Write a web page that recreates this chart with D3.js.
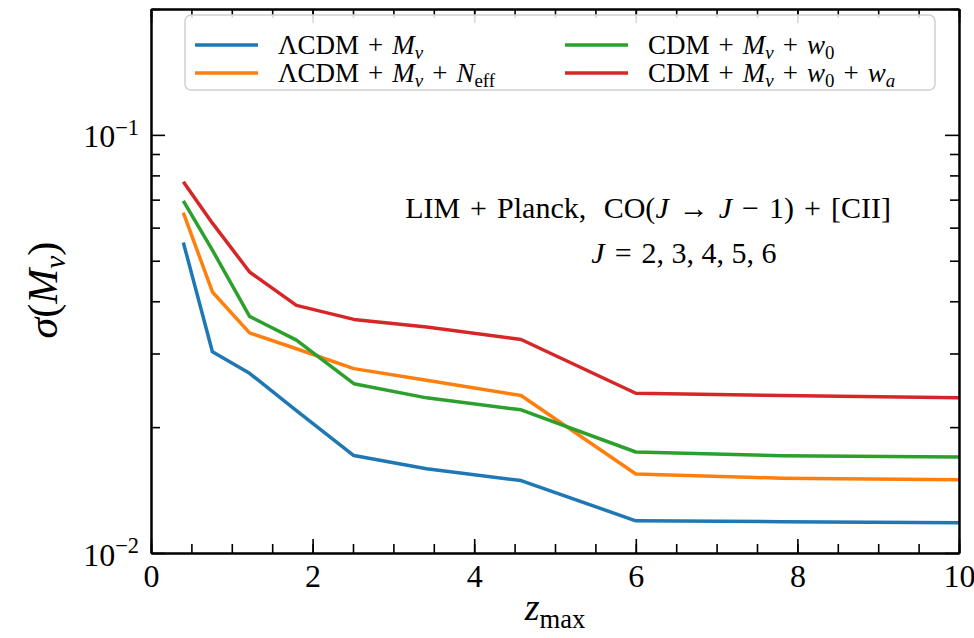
<!DOCTYPE html>
<html>
<head>
<meta charset="utf-8">
<script src="https://cdn.jsdelivr.net/npm/d3@7"></script>
<style>
  body { margin: 0; background: #fff; }
  svg { display: block; }
  text { font-family: "Liberation Serif", "DejaVu Serif", serif; fill: #000; }
</style>
</head>
<body>
<div id="chart"></div>
<script>
// Data
var zmax = [0.4, 0.76, 1.22, 1.8, 2.51, 3.41, 4.58, 6.0, 7.8, 10.0];
var sigLCDM = [0.0553, 0.0303, 0.0269, 0.0219, 0.0171, 0.0159, 0.0149, 0.01194, 0.01188, 0.01181];
var sigLCDMNeff = [0.0652, 0.0421, 0.0336, 0.0308, 0.0276, 0.0259, 0.0238, 0.01545, 0.0151, 0.01496];
var sigCDMw0 = [0.0695, 0.053, 0.0368, 0.0323, 0.0254, 0.0235, 0.022, 0.01744, 0.01709, 0.01697];
var sigCDMw0wa = [0.0772, 0.0615, 0.047, 0.0391, 0.0362, 0.0347, 0.0324, 0.0241, 0.0238, 0.0235];
var seriesColors = ["#1f77b4", "#ff7f0e", "#2ca02c", "#d62728"];
var xTicks = [0, 2, 4, 6, 8, 10];
var yMajor = [0.01, 0.1];

var width = 974, height = 638;
var m = { left: 151, right: 15, top: 9, bottom: 85 };
var pw = width - m.left - m.right;   // 808
var ph = height - m.top - m.bottom;  // 544

var svg = d3.select("#chart").append("svg")
  .attr("width", width)
  .attr("height", height);

var x = d3.scaleLinear().domain([0, 10]).range([m.left, m.left + pw]);
var y = d3.scaleLog().domain([0.01, 0.2]).range([m.top + ph, m.top]);

// three-per-em spaces for TeX-like spacing round binary operators
var SP = "\u2004";

/*
  Write a piece of math-like text. parts is a list of
  [string, style] where style is "n" (upright), "i" (italic),
  "sub" (upright subscript), "isub" (italic subscript), "sup"
*/
function mathText(sel, parts, size) {
  var prev = "n";
  function shiftOf(st) {
    if (st === "sub" || st === "isub") return size * 0.2;
    if (st === "sup") return -size * 0.38;
    return 0;
  }
  parts.forEach(function(p) {
    var t = sel.append("tspan").text(p[0]);
    var st = p[1];
    if (st === "i" || st === "isub") t.attr("font-style", "italic");
    if (st === "sub" || st === "isub" || st === "sup") t.attr("font-size", size * 0.7);
    var d = shiftOf(st) - shiftOf(prev);
    if (d !== 0) t.attr("dy", d);
    prev = st;
  });
}

// Lines
var line = d3.line()
  .x(function(d) { return x(d[0]); })
  .y(function(d) { return y(d[1]); });

var allSeries = [sigLCDM, sigLCDMNeff, sigCDMw0, sigCDMw0wa];
allSeries.forEach(function(vals, i) {
  svg.append("path")
    .datum(zmax.map(function(z, j) { return [z, vals[j]]; }))
    .attr("d", line)
    .attr("fill", "none")
    .attr("stroke", seriesColors[i])
    .attr("stroke-width", 3.5)
    .attr("stroke-linejoin", "round");
});

// Axes with inward ticks on all four sides
var xMinor = d3.range(0, 10.01, 0.5);
var yMinor = [0.02, 0.03, 0.04, 0.05, 0.06, 0.07, 0.08, 0.09, 0.2];

function styleAxis(g) {
  g.selectAll("path.domain").attr("stroke", "#000").attr("stroke-width", 2);
  g.selectAll(".tick line").attr("stroke", "#000").attr("stroke-width", 1.6);
}

svg.append("g").attr("transform", "translate(0," + (m.top + ph) + ")")
  .call(d3.axisBottom(x).tickValues(xMinor).tickSize(-9).tickSizeOuter(0).tickFormat(""))
  .call(styleAxis);
svg.append("g").attr("transform", "translate(0," + (m.top + ph) + ")")
  .call(d3.axisBottom(x).tickValues(xTicks).tickSize(-14).tickSizeOuter(0))
  .call(styleAxis)
  .call(function(g) {
    g.selectAll(".tick text")
      .attr("font-size", 32)
      .attr("font-family", "Liberation Serif")
      .attr("y", 34).attr("dy", 0);
  });
svg.append("g").attr("transform", "translate(0," + m.top + ")")
  .call(d3.axisTop(x).tickValues(xMinor).tickSize(-9).tickSizeOuter(0).tickFormat(""))
  .call(styleAxis);
svg.append("g").attr("transform", "translate(0," + m.top + ")")
  .call(d3.axisTop(x).tickValues(xTicks).tickSize(-14).tickSizeOuter(0).tickFormat(""))
  .call(styleAxis);

svg.append("g").attr("transform", "translate(" + m.left + ",0)")
  .call(d3.axisLeft(y).tickValues(yMinor).tickSize(-9).tickSizeOuter(0).tickFormat(""))
  .call(styleAxis);
var yl = svg.append("g").attr("transform", "translate(" + m.left + ",0)")
  .call(d3.axisLeft(y).tickValues(yMajor).tickSize(-14).tickSizeOuter(0).tickFormat(""))
  .call(styleAxis);
yl.selectAll(".tick").append("text")
  .attr("x", -12)
  .attr("y", 12)
  .attr("text-anchor", "end")
  .attr("font-size", 32)
  .each(function(d) {
    var e = Math.round(Math.log10(d));
    mathText(d3.select(this), [["10", "n"], ["\u2212" + (-e), "sup"]], 32);
  });

svg.append("g").attr("transform", "translate(" + (m.left + pw) + ",0)")
  .call(d3.axisRight(y).tickValues(yMinor).tickSize(-9).tickSizeOuter(0).tickFormat(""))
  .call(styleAxis);
svg.append("g").attr("transform", "translate(" + (m.left + pw) + ",0)")
  .call(d3.axisRight(y).tickValues(yMajor).tickSize(-14).tickSizeOuter(0).tickFormat(""))
  .call(styleAxis);

// Axis titles
svg.append("text")
  .attr("x", 555).attr("y", 620)
  .attr("text-anchor", "middle")
  .attr("font-size", 38)
  .call(mathText, [["z", "i"], ["max", "sub"]], 38);

svg.append("text")
  .attr("transform", "translate(57,290) rotate(-90)")
  .attr("text-anchor", "middle")
  .attr("font-size", 42)
  .call(mathText, [["\u03c3", "i"], ["(", "n"], ["M", "i"], ["\u03bd", "isub"], [")", "n"]], 42);

// Annotation
svg.append("text")
  .attr("x", 648).attr("y", 218)
  .attr("text-anchor", "middle")
  .attr("font-size", 30)
  .call(mathText, [["LIM" + SP + "+" + SP + "Planck," + SP + " CO(", "n"], ["J", "i"],
    [SP + "\u2192" + SP, "n"], ["J", "i"],
    [SP + "\u2212" + SP + "1)" + SP + "+" + SP + "[CII]", "n"]], 30);
svg.append("text")
  .attr("x", 684).attr("y", 263)
  .attr("text-anchor", "middle")
  .attr("font-size", 30)
  .call(mathText, [["J", "i"], [SP + "=" + SP + "2, 3, 4, 5, 6", "n"]], 30);

// Legend
var plus = SP + "+" + SP;
var legendItems = [
  { col: 0, row: 0, parts: [["\u039bCDM" + plus, "n"], ["M", "i"], ["\u03bd", "isub"]] },
  { col: 0, row: 1, parts: [["\u039bCDM" + plus, "n"], ["M", "i"], ["\u03bd", "isub"], [plus, "n"], ["N", "i"], ["eff", "sub"]] },
  { col: 1, row: 0, parts: [["CDM" + plus, "n"], ["M", "i"], ["\u03bd", "isub"], [plus, "n"], ["w", "i"], ["0", "sub"]] },
  { col: 1, row: 1, parts: [["CDM" + plus, "n"], ["M", "i"], ["\u03bd", "isub"], [plus, "n"], ["w", "i"], ["0", "sub"], [plus, "n"], ["w", "i"], ["a", "isub"]] }
];

var lg = svg.append("g");
lg.append("rect")
  .attr("x", 185).attr("y", 15)
  .attr("width", 750).attr("height", 75)
  .attr("rx", 6)
  .attr("fill", "#fff").attr("fill-opacity", 0.85)
  .attr("stroke", "#d0d0d0").attr("stroke-width", 1.5);

legendItems.forEach(function(it, i) {
  var lx = 195 + it.col * 370;
  var ly = 45 + it.row * 28;
  lg.append("line")
    .attr("x1", lx).attr("x2", lx + 63)
    .attr("y1", ly).attr("y2", ly)
    .attr("stroke", seriesColors[i]).attr("stroke-width", 3.5);
  lg.append("text")
    .attr("x", lx + 83).attr("y", ly + 9)
    .attr("font-size", 27)
    .call(mathText, it.parts, 27);
});
</script>
</body>
</html>
